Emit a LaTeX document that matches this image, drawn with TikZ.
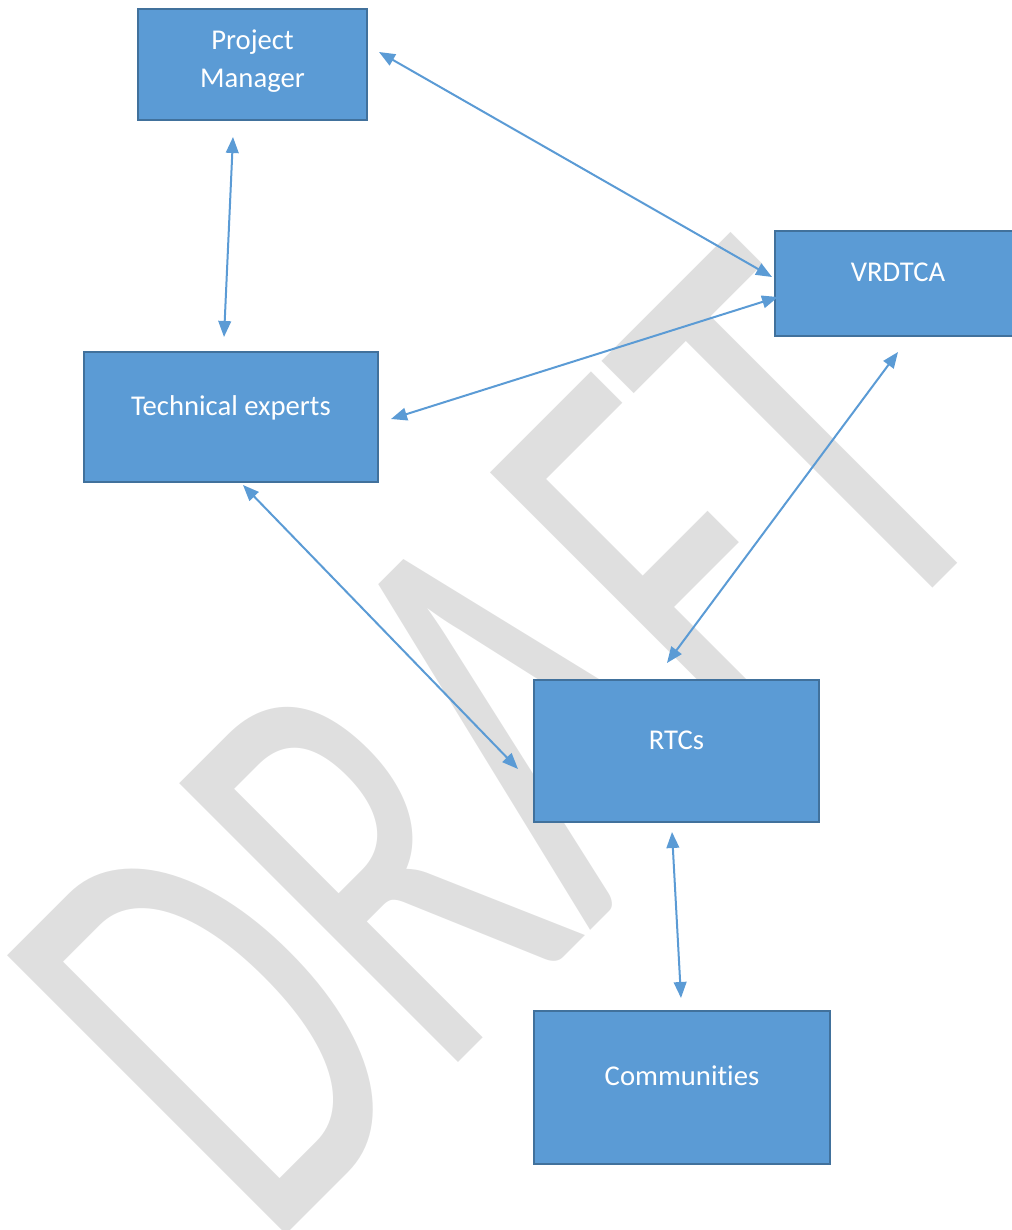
\documentclass[tikz,border=0pt]{standalone}
\usepackage{fontspec}
\setmainfont{Carlito}[Ligatures=NoCommon]
\newfontfamily\wmfont{Carlito}
\usetikzlibrary{arrows.meta}
\definecolor{boxblue}{RGB}{91,155,213}
\definecolor{boxedge}{RGB}{65,113,156}
\definecolor{wmgray}{RGB}{223,223,223}
\tikzset{
  box/.style={draw=boxedge,fill=boxblue,line width=1.5pt,text=white,inner sep=0pt,
    font=\fontsize{21.5}{28.5}\selectfont},
  oneline/.style={text height=10pt,text depth=13pt},
  link/.style={<->,draw=boxblue,line width=1.5pt}
}
\begin{document}
\begin{tikzpicture}[x=0.75pt,y=-0.75pt,>={Triangle[length=12pt,width=9.5pt]}]
\useasboundingbox (0,0) rectangle (1012,1230);
\node[rotate=45,xscale=0.64,anchor=base west,inner sep=0pt,text=wmgray,
  font=\wmfont\fontsize{461}{461}\selectfont] (draft) at (267,1254) {DRAFT};
\node[box,align=center,text depth=9pt,minimum width=171.75pt,minimum height=83.25pt] (pm) at (252.5,64.5) {Project\\Manager};
\node[box,oneline,minimum width=184.5pt,minimum height=78.75pt] (vrdtca) at (898,283.5) {VRDTCA};
\node[box,oneline,minimum width=220.5pt,minimum height=97.5pt] (tech) at (231,417) {Technical experts};
\node[box,oneline,minimum width=213.75pt,minimum height=106.5pt] (rtc) at (676.5,751) {RTCs};
\node[box,oneline,minimum width=222pt,minimum height=114.75pt] (comm) at (682,1087.5) {Communities};
\coordinate (pm-r) at (379,52);   \coordinate (vr-l) at (772,277);
\coordinate (pm-b) at (233,137);  \coordinate (te-t) at (224,337);
\coordinate (vr-w) at (778,297);  \coordinate (te-r) at (391,419);
\coordinate (te-b) at (243,485);  \coordinate (rt-l) at (518,769);
\coordinate (vr-b) at (898,352);  \coordinate (rt-t) at (667,663);
\coordinate (rt-b) at (672,832);  \coordinate (co-t) at (681,998);
\draw[link] (pm-r)--(vr-l);
\draw[link] (pm-b)--(te-t);
\draw[link] (vr-w)--(te-r);
\draw[link] (te-b)--(rt-l);
\draw[link] (vr-b)--(rt-t);
\draw[link] (rt-b)--(co-t);
\end{tikzpicture}
\end{document}
